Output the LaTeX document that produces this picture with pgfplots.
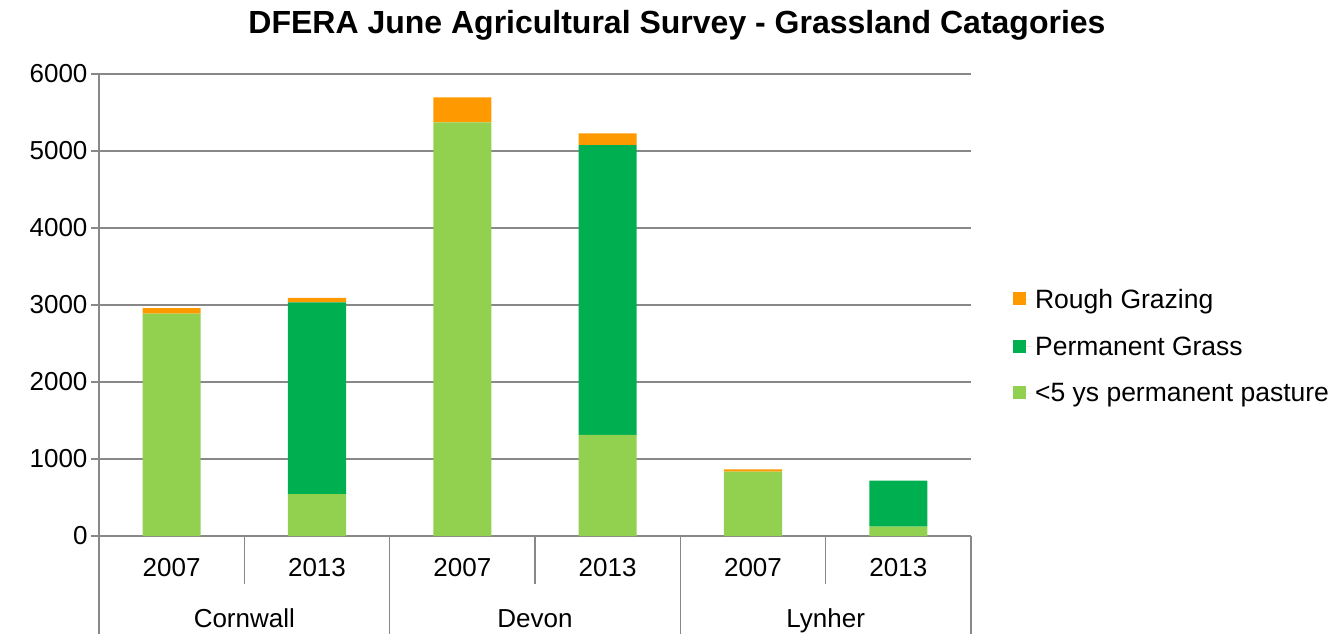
\documentclass[border=0pt]{standalone}
\usepackage{pgfplots}
\pgfplotsset{compat=1.18}
\usepackage{fontspec}
\setmainfont{Liberation Sans}
\definecolor{lg}{HTML}{92D050}
\definecolor{dg}{HTML}{00B050}
\definecolor{og}{HTML}{FF9900}
\definecolor{gl}{HTML}{888888}
\begin{document}
\begin{tikzpicture}[x=1pt,y=1pt]
\path[use as bounding box] (0,0) rectangle (1330,633);
\node[font=\fontsize{32}{36}\selectfont\bfseries, anchor=base] at (677,599) {DFERA June Agricultural Survey - Grassland Catagories};
\begin{axis}[
  at={(99pt,97pt)}, anchor=south west,
  scale only axis, width=872pt, height=462pt,
  ybar stacked, bar width=0.4,
  xmin=0, xmax=6, ymin=0, ymax=6000,
  clip=false,
  axis lines*=left,
  axis line style={gl, line width=1.5pt},
  ytick={0,1000,...,6000},
  ymajorgrids, grid style={gl, line width=1.5pt},
  tick align=outside, major tick length=8pt,
  ytick style={gl, line width=1.5pt},
  xtick={0.5,1.5,2.5,3.5,4.5,5.5},
  xticklabels={2007,2013,2007,2013,2007,2013},
  xtick style={draw=none},
  /pgf/number format/1000 sep={},
  /pgf/number format/assume math mode=true,
  tick label style={font=\fontsize{26}{30}\selectfont},
  xticklabel style={anchor=base, yshift=-32pt},
  reverse legend,
  legend style={draw=none, fill=none, at={(1.0446,0.411)}, anchor=west,
    font=\fontsize{26.5}{30}\selectfont, row sep=21pt,
    nodes={inner sep=3pt}},
  legend cell align=left,
  legend image code/.code={\fill[#1] (0pt,-6pt) rectangle (13pt,7pt); \path (13pt,0pt) -- (19pt,0pt);},
]
\addplot[fill=lg, draw=none] coordinates {(0.5,2887) (1.5,545) (2.5,5372) (3.5,1312) (4.5,835) (5.5,121)};
\addplot[fill=dg, draw=none] coordinates {(0.5,0) (1.5,2490) (2.5,0) (3.5,3766) (4.5,0) (5.5,597)};
\addplot[fill=og, draw=none] coordinates {(0.5,74) (1.5,56) (2.5,325) (3.5,152) (4.5,31) (5.5,0)};
\legend{{<5 ys permanent pasture},{Permanent Grass},{Rough Grazing}}
\draw[gl, line width=1.5pt] (axis cs:0,0) -- ++(0,-100pt);
\draw[gl, line width=1.5pt] (axis cs:2,0) -- ++(0,-100pt);
\draw[gl, line width=1.5pt] (axis cs:4,0) -- ++(0,-100pt);
\draw[gl, line width=1.5pt] (axis cs:6,0) -- ++(0,-100pt);
\draw[gl, line width=1.5pt] (axis cs:1,0) -- ++(0,-48pt);
\draw[gl, line width=1.5pt] (axis cs:3,0) -- ++(0,-48pt);
\draw[gl, line width=1.5pt] (axis cs:5,0) -- ++(0,-48pt);
\node[anchor=base, font=\fontsize{26}{30}\selectfont] at ([yshift=-91pt]axis cs:1,0) {Cornwall};
\node[anchor=base, font=\fontsize{26}{30}\selectfont] at ([yshift=-91pt]axis cs:3,0) {Devon};
\node[anchor=base, font=\fontsize{26}{30}\selectfont] at ([yshift=-91pt]axis cs:5,0) {Lynher};
\end{axis}
\end{tikzpicture}
\end{document}
